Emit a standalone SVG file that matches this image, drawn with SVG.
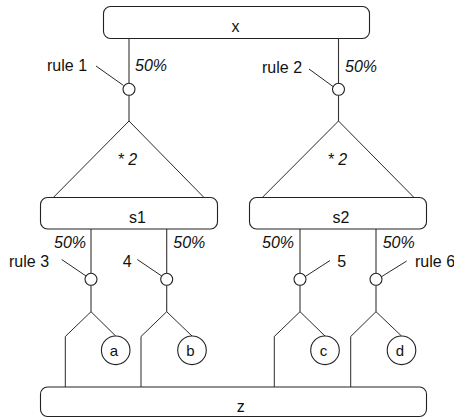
<svg xmlns="http://www.w3.org/2000/svg" width="454" height="418" viewBox="0 0 454 418">
<style>
.box{fill:#fff;stroke:#222;stroke-width:1.1}
.c{fill:none;stroke:#333;stroke-width:1.1}
.p{fill:none;stroke:#111;stroke-width:0.9}
.dot{fill:#fff;stroke:#222;stroke-width:1.1}
.leaf{fill:#fff;stroke:#222;stroke-width:1.1}
text{font-family:"Liberation Sans",Arial,sans-serif;font-size:16px;fill:#111}
.i{font-style:italic}
.m{text-anchor:middle}
.s{font-size:15px}
</style>
<g id="connectors">
  <!-- from x -->
  <line class="c" x1="129" y1="38.5" x2="129" y2="83.3"/>
  <line class="c" x1="129" y1="95.3" x2="129" y2="121"/>
  <line class="c" x1="338.5" y1="38.5" x2="338.5" y2="83.3"/>
  <line class="c" x1="338.5" y1="95.3" x2="338.5" y2="121"/>
  <!-- triangles -->
  <polyline class="p" points="53.3,197.5 129,121 204,197.5"/>
  <polyline class="p" points="262.3,197.5 338.5,121 414,197.5"/>
  <!-- from s1/s2 -->
  <line class="c" x1="91" y1="229" x2="91" y2="273.3"/>
  <line class="c" x1="91" y1="285.3" x2="91" y2="311.7"/>
  <line class="c" x1="166.7" y1="229" x2="166.7" y2="273.3"/>
  <line class="c" x1="166.7" y1="285.3" x2="166.7" y2="311.7"/>
  <line class="c" x1="300" y1="229" x2="300" y2="273.3"/>
  <line class="c" x1="300" y1="285.3" x2="300" y2="311.7"/>
  <line class="c" x1="376" y1="229" x2="376" y2="273.3"/>
  <line class="c" x1="376" y1="285.3" x2="376" y2="311.7"/>
  <!-- forks -->
  <polyline class="p" points="65.3,387 65.3,336.5 91,311.7 115.7,336"/>
  <polyline class="p" points="141,387 141,336.5 166.7,311.7 192,336"/>
  <polyline class="p" points="274.3,387 274.3,336.5 300,311.7 325,336"/>
  <polyline class="p" points="350.7,387 350.7,336.5 376,311.7 401.5,336"/>
  <!-- pointers -->
  <line class="p" x1="96" y1="66" x2="123.5" y2="85.5"/>
  <line class="p" x1="309" y1="69" x2="333" y2="86.5"/>
  <line class="p" x1="61.7" y1="259.5" x2="86" y2="276"/>
  <line class="p" x1="137.3" y1="259.5" x2="161.7" y2="276"/>
  <line class="p" x1="330" y1="260.5" x2="304.5" y2="277"/>
  <line class="p" x1="406.7" y1="261" x2="381" y2="277"/>
</g>
<g id="x"><rect class="box" x="103.5" y="6.5" width="266" height="32" rx="7"/><text class="m" x="235.5" y="31.5">x</text></g>
<g id="s1"><rect class="box" x="40.5" y="197.5" width="177" height="31.5" rx="7"/><text class="m" x="137.5" y="223">s1</text></g>
<g id="s2"><rect class="box" x="249.5" y="197.5" width="177" height="31.5" rx="7"/><text class="m" x="341" y="223">s2</text></g>
<g id="z"><rect class="box" x="40.5" y="387" width="386" height="29.5" rx="7"/><text class="m" x="240.7" y="411.5">z</text></g>
<g id="rule1"><circle class="dot" cx="129" cy="89.3" r="6"/><text x="47" y="71">rule 1</text><text class="i" x="135" y="71">50%</text></g>
<g id="rule2"><circle class="dot" cx="338.5" cy="89.3" r="6"/><text x="262" y="72.5">rule 2</text><text class="i" x="345" y="71.5">50%</text></g>
<g id="mult1"><text class="i" x="117.5" y="164.5">* 2</text></g>
<g id="mult2"><text class="i" x="327.5" y="164.5">* 2</text></g>
<g id="rule3"><circle class="dot" cx="91" cy="279.3" r="6"/><text x="9" y="267">rule 3</text><text class="i" x="54" y="247.5">50%</text></g>
<g id="rule4"><circle class="dot" cx="166.7" cy="279.3" r="6"/><text x="122.7" y="267">4</text><text class="i" x="173.3" y="247.5">50%</text></g>
<g id="rule5"><circle class="dot" cx="300" cy="279.3" r="6"/><text x="337.3" y="267">5</text><text class="i" x="262" y="247.5">50%</text></g>
<g id="rule6"><circle class="dot" cx="376" cy="279.3" r="6"/><text x="415" y="267">rule 6</text><text class="i" x="382.7" y="247.5">50%</text></g>
<g id="a"><circle class="leaf" cx="115.7" cy="350.3" r="14.3"/><text class="m s" x="114" y="355.5">a</text></g>
<g id="b"><circle class="leaf" cx="192" cy="350.3" r="14.3"/><text class="m s" x="190.5" y="355.5">b</text></g>
<g id="c"><circle class="leaf" cx="325" cy="350.3" r="14.3"/><text class="m s" x="323.5" y="355.5">c</text></g>
<g id="d"><circle class="leaf" cx="401.5" cy="350.3" r="14.3"/><text class="m s" x="400" y="355.5">d</text></g>
</svg>
